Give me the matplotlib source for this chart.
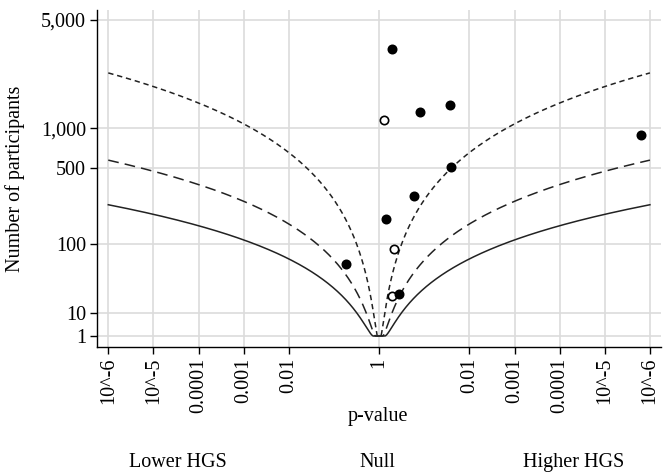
import math
import matplotlib
matplotlib.use('Agg')
import matplotlib.pyplot as plt
import numpy as np

plt.rcParams['font.family'] = ['Liberation Serif', 'DejaVu Serif']
plt.rcParams['font.size'] = 14

# Studies: direction (+1 higher HGS, -1 lower HGS), p-value, sample size, open marker?
direction = [1, 1, 1, 1, 1, 1, 1, 1, -1, 1, 1, 1]
p_values = [0.515, 0.123, 0.027, 0.79, 0.025, 0.168, 0.70, 0.47, 0.185, 0.515, 0.366, 1.6e-6]
n_participants = [3335, 1294, 1453, 1137, 510, 288, 178, 88, 59, 21, 22, 891]
open_marker = [False, False, False, True, False, False, False, True, False, True, False, False]

# Effect size contours (correlation) and their line styles
contour_r = [0.1, 0.2, 0.3]
contour_styles = [(0, (3.5, 2.5)), (0, (7, 4)), '-']
Z_EDGE = 4.8916  # two-sided z for p = 10^-6

# Axis ticks
x_tick_pos = [-6, -5, -4, -3, -2, 0, 2, 3, 4, 5, 6]
x_tick_labels = ['10^-6', '10^-5', '0.0001', '0.001', '0.01', '1',
                 '0.01', '0.001', '0.0001', '10^-5', '10^-6']
y_ticks = [1, 10, 100, 500, 1000, 5000]
y_tick_labels = ['1', '10', '100', '500', '1,000', '5,000']


def fwd(n):
    l = np.log10(np.asarray(n, dtype=float))
    return np.sign(l) * l ** 2


def inv(y):
    y = np.asarray(y, dtype=float)
    return 10 ** (np.sign(y) * np.sqrt(np.abs(y)))


fig = plt.figure(figsize=(6.63, 4.73), dpi=100)
ax = fig.add_axes([0.1463, 0.267, 0.851, 0.712])
ax.set_yscale('function', functions=(fwd, inv))

# contours
for r, ls in zip(contour_r, contour_styles):
    n_max = Z_EDGE ** 2 * (1 - r ** 2) / r ** 2
    n = np.geomspace(1, n_max, 400)
    z = r * np.sqrt(n / (1 - r ** 2))
    p = np.array([math.erfc(v / math.sqrt(2)) for v in z])
    x = -np.log10(p)
    xs = np.concatenate([-x[::-1], x])
    ns = np.concatenate([n[::-1], n])
    ax.plot(xs, ns, color='#222222', lw=1.1, linestyle=ls, zorder=2)

# studies
xpos = np.array(direction) * -np.log10(np.array(p_values))
for xv, nv, op in zip(xpos, n_participants, open_marker):
    ax.plot(xv, nv, 'o', markersize=6, markeredgewidth=1.2,
            markerfacecolor='white' if op else 'black',
            markeredgecolor='black', zorder=3)

ax.set_xlim(-6.25, 6.25)
ax.set_ylim(0.209, 5712)

ax.set_xticks(x_tick_pos)
ax.set_xticklabels(x_tick_labels, rotation=90)
ax.set_yticks(y_ticks)
ax.set_yticklabels(y_tick_labels)
ax.yaxis.set_minor_locator(matplotlib.ticker.NullLocator())
ax.tick_params(direction='out', length=5, width=1, labelsize=14.5, pad=3)

ax.grid(True, color='#dcdcdc', lw=1.2, zorder=0)
ax.set_axisbelow(True)
for side in ['top', 'right']:
    ax.spines[side].set_visible(False)
for side in ['left', 'bottom']:
    ax.spines[side].set_linewidth(1)

ax.set_ylabel('Number of participants', fontsize=14.5, va='center')
ax.yaxis.set_label_coords(-0.145, 0.5)

fig.text(378 / 663, 1 - 416 / 473, 'p-value', ha='center', va='center', fontsize=14.5)
fig.text(178 / 663, 1 - 462 / 473, 'Lower HGS', ha='center', va='center', fontsize=14.5)
fig.text(377 / 663, 1 - 462 / 473, 'Null', ha='center', va='center', fontsize=14.5)
fig.text(574 / 663, 1 - 462 / 473, 'Higher HGS', ha='center', va='center', fontsize=14.5)

fig.savefig('out.png', dpi=100)
